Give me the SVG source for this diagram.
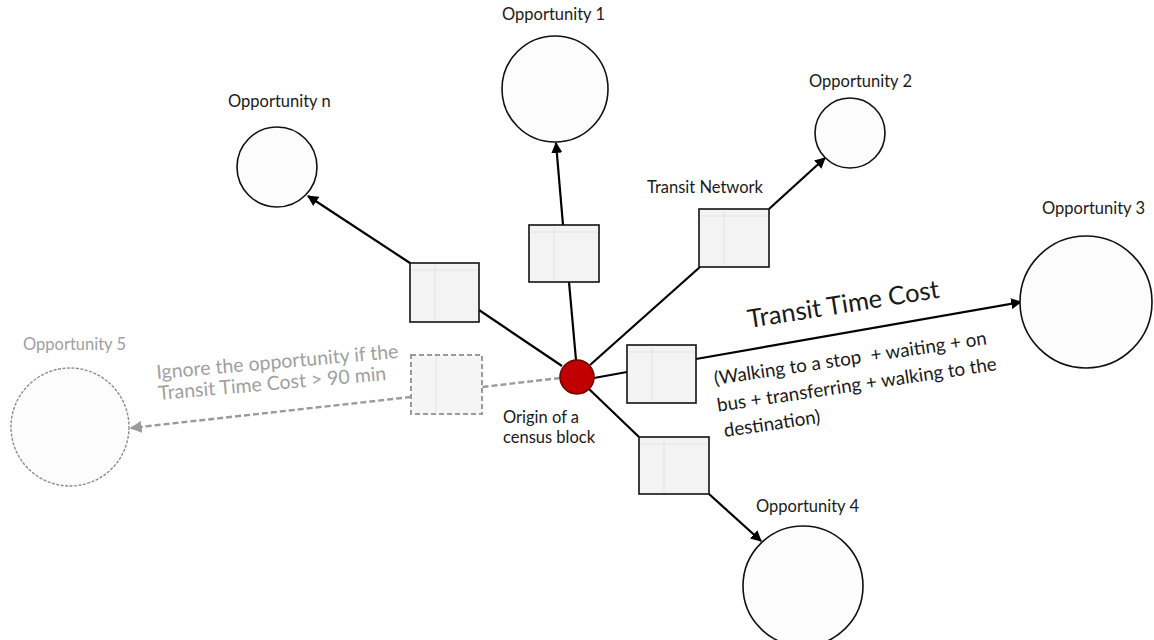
<svg xmlns="http://www.w3.org/2000/svg" width="1154" height="640" viewBox="0 0 1154 640">
  <style>
    .lbl { font-family: Lato, "Open Sans", "Liberation Sans", sans-serif; font-size: 16.5px; fill: #1a1a1a; }
    .big { font-size: 25.5px; }
    .mid { font-size: 18.8px; }
    .ign { font-size: 19.5px; }
    .opp { fill: #fcfcfc; stroke: #111; stroke-width: 1.6; }
    .opp-off { fill: #fcfcfc; stroke: #8c8c8c; stroke-width: 1.4; stroke-dasharray: 3 1.5; }
    .box { fill: #f3f3f3; stroke: #111; stroke-width: 1.6; }
    .box-off { fill: #f5f5f5; stroke: #9a9a9a; stroke-width: 2; stroke-dasharray: 5 3; }
    .grid { stroke: #e2e2e2; stroke-width: 1; fill: none; }
    .edge { stroke: #000; stroke-width: 2.2; fill: none; }
    .edge-off { stroke: #9a9a9a; stroke-width: 2.4; stroke-dasharray: 6 3; fill: none; }
    .grey { fill: #a0a0a0; }
  </style>
  <defs>
    <marker id="arrow" viewBox="0 0 10 10" refX="9" refY="5" markerWidth="5" markerHeight="5" orient="auto" markerUnits="strokeWidth">
      <path d="M0,0 L10,5 L0,10 z" fill="#000"/>
    </marker>
    <marker id="arrow-off" viewBox="0 0 10 10" refX="9" refY="5" markerWidth="5" markerHeight="5" orient="auto" markerUnits="strokeWidth">
      <path d="M0,0 L10,5 L0,10 z" fill="#9a9a9a"/>
    </marker>
  </defs>

  <!-- connectors -->
  <g id="connectors">
    <!-- opportunity n -->
    <line class="edge" x1="562" y1="366" x2="479" y2="310"/>
    <line class="edge" x1="410" y1="263" x2="308" y2="196" marker-end="url(#arrow)"/>
    <!-- opportunity 1 -->
    <line class="edge" x1="576" y1="360" x2="569" y2="282"/>
    <line class="edge" x1="563" y1="225" x2="556" y2="143" marker-end="url(#arrow)"/>
    <!-- opportunity 2 -->
    <line class="edge" x1="590" y1="365" x2="700" y2="267"/>
    <line class="edge" x1="769" y1="209" x2="825" y2="158" marker-end="url(#arrow)"/>
    <!-- opportunity 3 -->
    <line class="edge" x1="594" y1="378" x2="627" y2="372"/>
    <line class="edge" x1="696" y1="359" x2="1021" y2="302" marker-end="url(#arrow)"/>
    <!-- opportunity 4 -->
    <line class="edge" x1="589" y1="389" x2="639" y2="437"/>
    <line class="edge" x1="709" y1="494" x2="761" y2="541" marker-end="url(#arrow)"/>
    <!-- opportunity 5 (ignored) -->
    <line class="edge-off" x1="560" y1="378" x2="482" y2="387"/>
    <line class="edge-off" x1="411" y1="397" x2="131" y2="428" marker-end="url(#arrow-off)"/>
  </g>

  <!-- transit network boxes -->
  <g id="box-n">
    <rect class="box" x="410" y="263" width="69" height="59"/>
    <path class="grid" d="M435,265 V320 M412,270 H477"/>
  </g>
  <g id="box-1">
    <rect class="box" x="529" y="225" width="70" height="57"/>
    <path class="grid" d="M554,227 V280 M531,232 H597"/>
  </g>
  <g id="box-2">
    <rect class="box" x="699" y="209" width="70" height="58"/>
    <path class="grid" d="M724,211 V265 M701,216 H767"/>
  </g>
  <g id="box-3">
    <rect class="box" x="627" y="345" width="69" height="58"/>
    <path class="grid" d="M652,347 V401 M629,352 H694"/>
  </g>
  <g id="box-4">
    <rect class="box" x="639" y="437" width="70" height="57"/>
    <path class="grid" d="M664,439 V492 M641,444 H707"/>
  </g>
  <g id="box-5">
    <rect class="box-off" x="411" y="355" width="71" height="59"/>
    <path class="grid" d="M436,357 V412"/>
  </g>

  <!-- opportunities -->
  <g id="opportunity-n">
    <circle class="opp" cx="277" cy="167" r="40"/>
    <text class="lbl" x="228" y="107">Opportunity n</text>
  </g>
  <g id="opportunity-1">
    <circle class="opp" cx="555" cy="89" r="53"/>
    <text class="lbl" x="502" y="20">Opportunity 1</text>
  </g>
  <g id="opportunity-2">
    <circle class="opp" cx="850" cy="133" r="35"/>
    <text class="lbl" x="809" y="87">Opportunity 2</text>
  </g>
  <g id="opportunity-3">
    <circle class="opp" cx="1086" cy="302" r="66"/>
    <text class="lbl" x="1042" y="214">Opportunity 3</text>
  </g>
  <g id="opportunity-4">
    <circle class="opp" cx="803" cy="586" r="60"/>
    <text class="lbl" x="756" y="512">Opportunity 4</text>
  </g>
  <g id="opportunity-5">
    <circle class="opp-off" cx="70" cy="427" r="59"/>
    <text class="lbl grey" x="23" y="350">Opportunity 5</text>
  </g>

  <!-- origin -->
  <g id="origin">
    <circle cx="577" cy="377" r="17" fill="#c00000" stroke="#6b0000" stroke-width="1.5"/>
    <text class="lbl" x="503" y="423">Origin of a</text>
    <text class="lbl" x="503" y="443">census block</text>
  </g>

  <!-- labels -->
  <g id="labels">
    <text class="lbl" x="647" y="193">Transit Network</text>
    <text class="lbl big" x="0" y="0" transform="translate(749,328) rotate(-9)">Transit Time Cost</text>
    <g transform="translate(715,385) rotate(-8.5)">
      <text class="lbl mid" x="0" y="0" xml:space="preserve">(Walking to a stop  + waiting + on</text>
      <text class="lbl mid" x="-1" y="27">bus + transferring + walking to the</text>
      <text class="lbl mid" x="2" y="53">destination)</text>
    </g>
    <g transform="translate(157,379) rotate(-5)">
      <text class="lbl ign grey" x="0" y="0">Ignore the opportunity if the</text>
      <text class="lbl ign grey" x="0" y="21">Transit Time Cost &gt; 90 min</text>
    </g>
  </g>
</svg>
